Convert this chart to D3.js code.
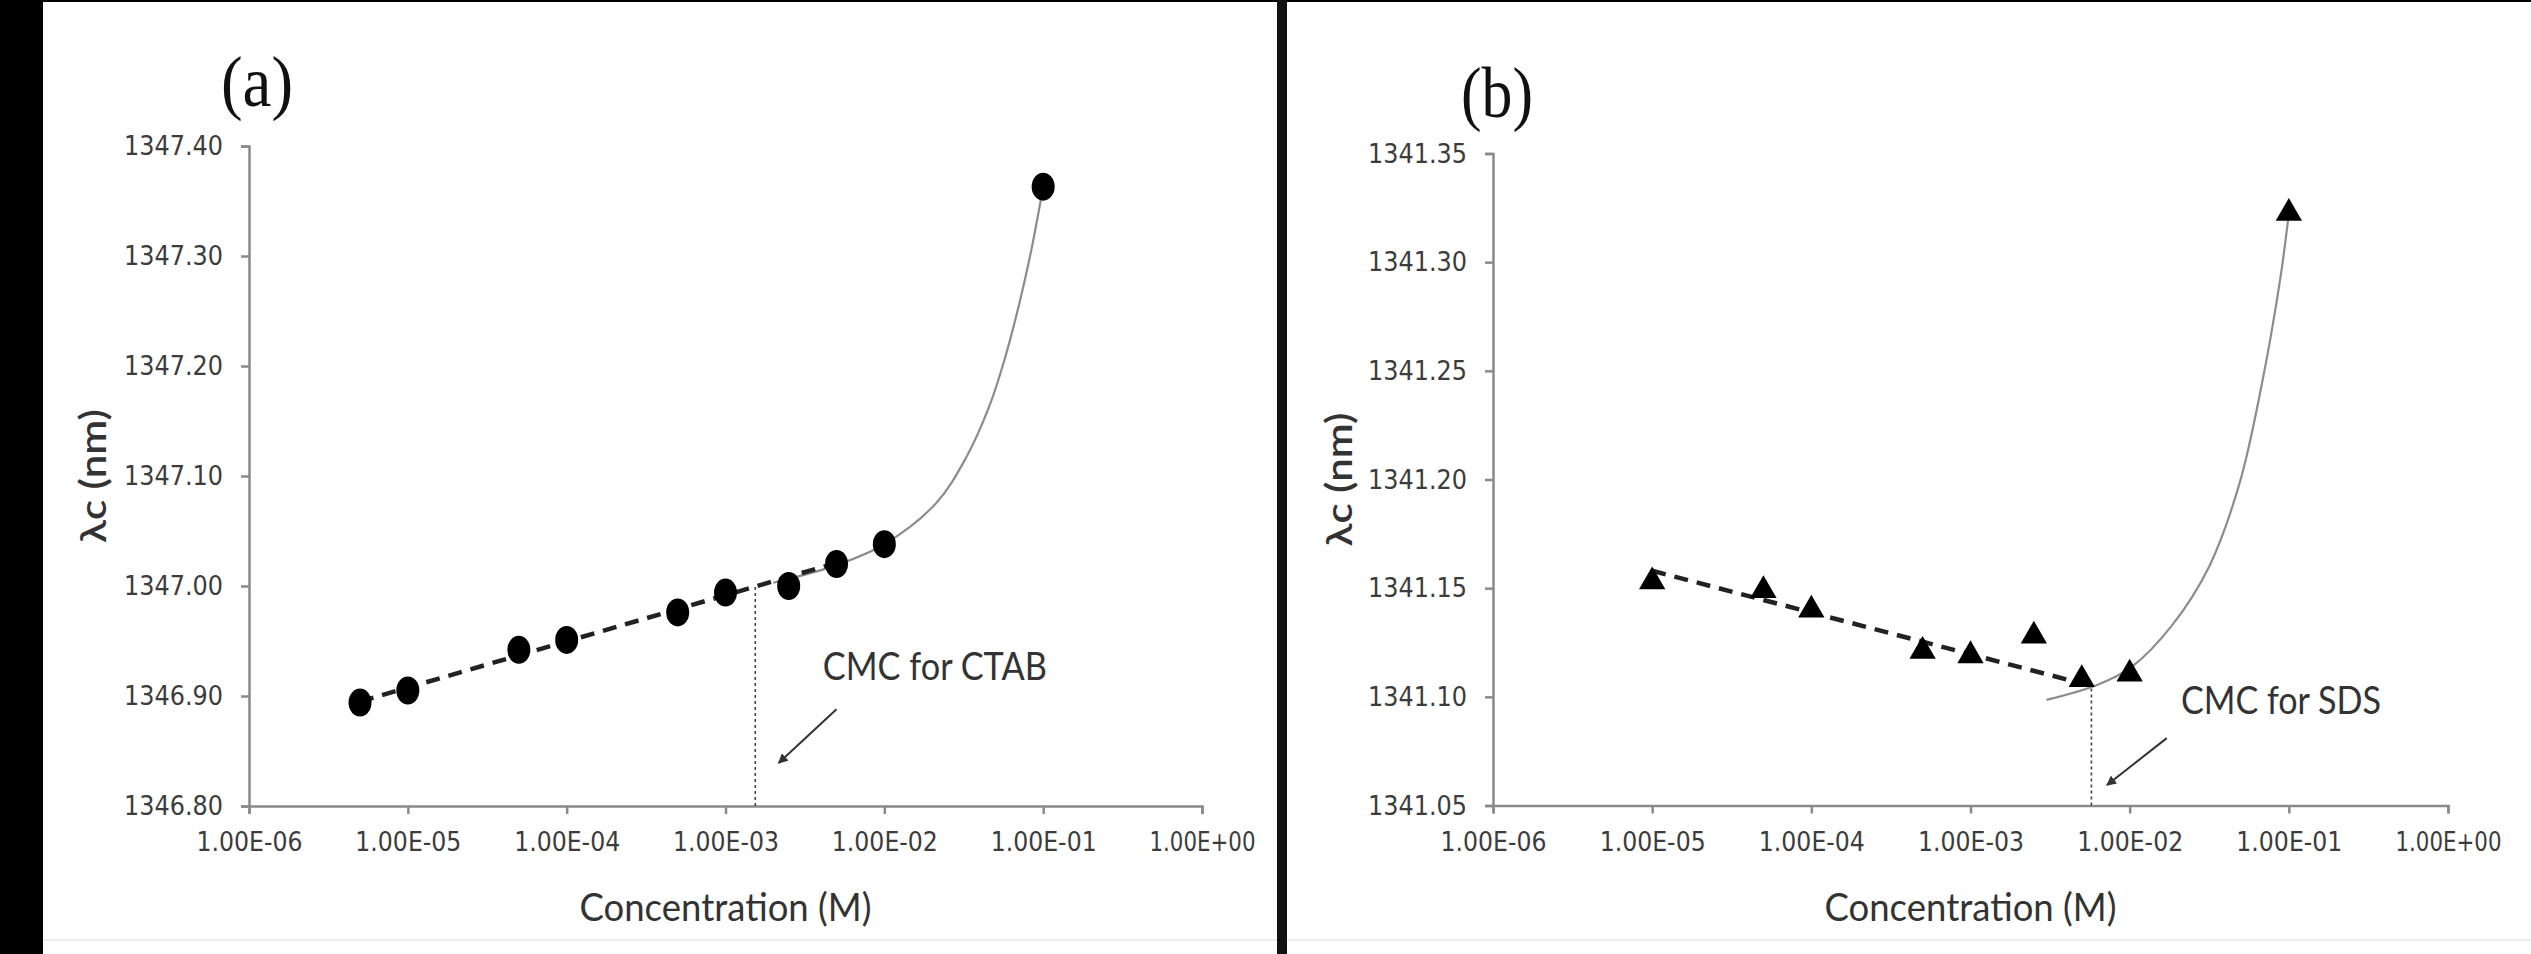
<!DOCTYPE html>
<html>
<head>
    <meta charset="utf-8">
    <script src="https://d3js.org/d3.v7.min.js"></script>
    <style>
        html, body {
            margin: 0;
            padding: 0;
            overflow: hidden;
            background: #000;
        }

        .tick text {
            font-family: "DejaVu Sans", sans-serif;
            font-size: 27px;
            fill: #3c3c3c;
        }

        .axis path, .axis line {
            stroke: #8a8a8a;
            stroke-width: 2.5px;
        }

        .title {
            font-family: Lato, "Open Sans", sans-serif;
            fill: #333;
        }

        .panel-label {
            font-family: "Liberation Serif", serif;
            font-size: 72px;
            fill: #111;
        }
    </style>
</head>
<body>

<svg id="chart" width="2531" height="954"></svg>

<script>
// x axis (log scale) ticks
var xTicks = [1e-6, 1e-5, 1e-4, 1e-3, 1e-2, 1e-1, 1];
var xTickLabels = ["1.00E-06", "1.00E-05", "1.00E-04", "1.00E-03", "1.00E-02", "1.00E-01", "1.00E+00"];

// (a) CTAB
var ctabConc  = [5e-6, 1e-5, 5e-5, 1e-4, 5e-4, 1e-3, 2.5e-3, 5e-3, 1e-2, 1e-1];
var ctabShift = [1346.894, 1346.905, 1346.942, 1346.951, 1346.976, 1346.994, 1347.000, 1347.020, 1347.038, 1347.363];
var ctabYTicks = [1346.8, 1346.9, 1347.0, 1347.1, 1347.2, 1347.3, 1347.4];
var ctabDashed = [[5e-6, 1346.895], [5e-3, 1347.021]];
var ctabCurve = [[2e-3, 1347.003], [5e-3, 1347.019], [1e-2, 1347.038], [0.0211, 1347.075],
                 [0.0328, 1347.117], [0.0457, 1347.163], [0.0569, 1347.205], [0.0711, 1347.258], [0.0841, 1347.305], [0.1, 1347.363]];
var ctabCmc = [[1.54e-3, 1346.8], [1.54e-3, 1347.0]];
var ctabArrow = [[5.0e-3, 1346.888], [2.16e-3, 1346.839]];
var ctabNote = {text: "CMC for CTAB", x: 4.1e-3, y: 1346.9145};

// (b) SDS
var sdsConc  = [1e-5, 5e-5, 1e-4, 5e-4, 1e-3, 2.5e-3, 5e-3, 1e-2, 1e-1];
var sdsShift = [1341.153, 1341.149, 1341.140, 1341.121, 1341.119, 1341.128, 1341.108, 1341.1105, 1341.3225];
var sdsYTicks = [1341.05, 1341.10, 1341.15, 1341.20, 1341.25, 1341.30, 1341.35];
var sdsDashed = [[1e-5, 1341.158], [5.75e-3, 1341.105]];
var sdsCurve = [[3.0e-3, 1341.0986], [6.3e-3, 1341.1056], [1.03e-2, 1341.1138], [0.0185, 1341.133], [0.0316, 1341.160],
                [0.0489, 1341.198], [0.0673, 1341.243], [0.0886, 1341.293], [0.1, 1341.3225]];
var sdsCmc = [[5.75e-3, 1341.05], [5.75e-3, 1341.105]];
var sdsArrow = [[0.0171, 1341.081], [7.2e-3, 1341.0594]];
var sdsNote = {text: "CMC for SDS", x: 0.021, y: 1341.092};


var svg = d3.select("#chart");

// page background: black frame, white panels
svg.append("rect").attr("x", 0).attr("y", 0).attr("width", 2531).attr("height", 954).attr("fill", "#000");
svg.append("rect").attr("x", 43).attr("y", 2).attr("width", 2488).attr("height", 952).attr("fill", "#fff");
svg.append("line").attr("x1", 43).attr("x2", 2531).attr("y1", 940).attr("y2", 940)
    .attr("stroke", "#eee").attr("stroke-width", 2);
svg.append("rect").attr("x", 1277).attr("y", 0).attr("width", 10).attr("height", 954).attr("fill", "#111");

var defs = svg.append("defs");
defs.append("marker")
    .attr("id", "arrowhead")
    .attr("viewBox", "0 0 10 10")
    .attr("refX", 9).attr("refY", 5)
    .attr("markerWidth", 5).attr("markerHeight", 5)
    .attr("orient", "auto")
    .append("path")
    .attr("d", "M0,0 L10,5 L0,10 z")
    .attr("fill", "#333");


function drawPanel(cfg) {
    var g = svg.append("g");

    var x = d3.scaleLog().domain([1e-6, 1]).range(cfg.xRange);
    var y = d3.scaleLinear().domain(cfg.yDomain).range(cfg.yRange);

    var xAxis = g.append("g")
        .attr("class", "axis")
        .attr("transform", "translate(0," + cfg.yRange[0] + ")")
        .call(d3.axisBottom(x)
            .tickValues(xTicks)
            .tickFormat(function(d, i) { return xTickLabels[i]; })
            .tickSizeOuter(0)
            .tickSize(8)
            .tickPadding(18));
    xAxis.selectAll("text")
        .attr("textLength", 106)
        .attr("lengthAdjust", "spacingAndGlyphs");

    var yAxis = g.append("g")
        .attr("class", "axis")
        .attr("transform", "translate(" + cfg.xRange[0] + ",0)")
        .call(d3.axisLeft(y)
            .tickValues(cfg.yTicks)
            .tickFormat(d3.format(".2f"))
            .tickSizeOuter(0)
            .tickSize(8)
            .tickPadding(18));
    yAxis.selectAll("text")
        .attr("textLength", 99)
        .attr("lengthAdjust", "spacingAndGlyphs");

    // axis titles
    g.append("text")
        .attr("class", "title")
        .attr("x", (cfg.xRange[0] + cfg.xRange[1]) / 2)
        .attr("y", 921)
        .attr("text-anchor", "middle")
        .attr("font-size", 38)
        .attr("textLength", 292)
        .attr("lengthAdjust", "spacingAndGlyphs")
        .text("Concentration (M)");

    g.append("text")
        .attr("class", "title")
        .attr("transform", "translate(" + cfg.yTitleX + "," + ((cfg.yRange[0] + cfg.yRange[1]) / 2) + ") rotate(-90)")
        .attr("text-anchor", "middle")
        .attr("font-size", 36)
        .attr("font-weight", 600)
        .attr("textLength", 134)
        .attr("lengthAdjust", "spacingAndGlyphs")
        .text("λc (nm)");

    // panel letter
    g.append("text")
        .attr("class", "panel-label")
        .attr("x", cfg.labelX)
        .attr("y", cfg.labelY)
        .attr("text-anchor", "middle")
        .attr("textLength", 72)
        .attr("lengthAdjust", "spacingAndGlyphs")
        .text(cfg.label);

    var line = d3.line()
        .x(function(d) { return x(d[0]); })
        .y(function(d) { return y(d[1]); });

    // grey trend curve
    g.append("path")
        .attr("d", line.curve(d3.curveCatmullRom.alpha(0.5))(cfg.curve))
        .attr("fill", "none")
        .attr("stroke", "#8c8c8c")
        .attr("stroke-width", 2.2);

    // dashed fit
    g.append("path")
        .attr("d", line.curve(d3.curveLinear)(cfg.dashed))
        .attr("fill", "none")
        .attr("stroke", "#222")
        .attr("stroke-width", 4.5)
        .attr("stroke-dasharray", "14,9");

    // dotted CMC drop line
    g.append("path")
        .attr("d", line(cfg.cmc))
        .attr("fill", "none")
        .attr("stroke", "#444")
        .attr("stroke-width", 1.6)
        .attr("stroke-dasharray", "3,3");

    // markers
    var pts = cfg.conc.map(function(c, i) { return [c, cfg.shift[i]]; });
    if (cfg.marker === "circle") {
        g.selectAll(".pt")
            .data(pts)
            .enter().append("ellipse")
            .attr("cx", function(d) { return x(d[0]); })
            .attr("cy", function(d) { return y(d[1]); })
            .attr("rx", 11.5)
            .attr("ry", 14)
            .attr("fill", "#000");
    } else {
        g.selectAll(".pt")
            .data(pts)
            .enter().append("path")
            .attr("transform", function(d) { return "translate(" + x(d[0]) + "," + y(d[1]) + ")"; })
            .attr("d", d3.symbol().type(d3.symbolTriangle).size(300))
            .attr("fill", "#000");
    }

    // annotation
    g.append("path")
        .attr("d", line(cfg.arrow))
        .attr("stroke", "#333")
        .attr("stroke-width", 2)
        .attr("fill", "none")
        .attr("marker-end", "url(#arrowhead)");

    g.append("text")
        .attr("class", "title")
        .attr("x", x(cfg.note.x))
        .attr("y", y(cfg.note.y))
        .attr("font-size", 38)
        .attr("textLength", cfg.noteWidth)
        .attr("lengthAdjust", "spacingAndGlyphs")
        .text(cfg.note.text);
}

drawPanel({
    xRange: [249, 1202], yRange: [806, 146], yDomain: [1346.8, 1347.4], yTicks: ctabYTicks,
    conc: ctabConc, shift: ctabShift, dashed: ctabDashed, curve: ctabCurve, cmc: ctabCmc,
    arrow: ctabArrow, note: ctabNote, noteWidth: 224, marker: "circle",
    label: "(a)", labelX: 257, labelY: 106, yTitleX: 106
});

drawPanel({
    xRange: [1493, 2448], yRange: [805.5, 153.5], yDomain: [1341.05, 1341.35], yTicks: sdsYTicks,
    conc: sdsConc, shift: sdsShift, dashed: sdsDashed, curve: sdsCurve, cmc: sdsCmc,
    arrow: sdsArrow, note: sdsNote, noteWidth: 200, marker: "triangle",
    label: "(b)", labelX: 1497, labelY: 117, yTitleX: 1352
});
</script>
</body>
</html>
